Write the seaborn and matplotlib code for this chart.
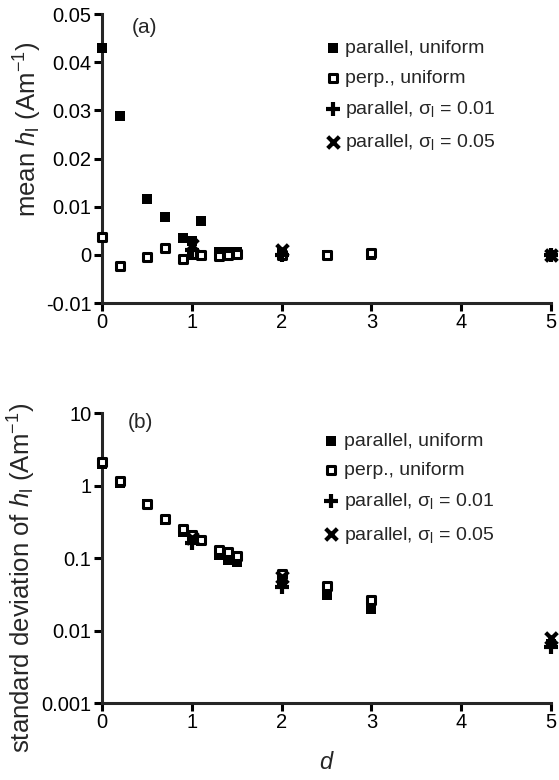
import numpy as np
import pandas as pd
import matplotlib
matplotlib.use("Agg")
import matplotlib.pyplot as plt
import seaborn as sns
from matplotlib.ticker import FixedLocator, NullLocator, FixedFormatter

sns.set_style("ticks")
plt.rcParams['font.family'] = ['Liberation Sans', 'DejaVu Sans']
plt.rcParams['mathtext.fontset'] = 'custom'
plt.rcParams['mathtext.rm'] = 'Liberation Sans'
plt.rcParams['mathtext.it'] = 'Liberation Sans:italic'

# ---- data ----
d_par = [0, 0.2, 0.5, 0.7, 0.9, 1.0, 1.1, 1.3, 1.4, 1.5, 2, 2.5, 3, 5]
mean_par = [0.043, 0.0288, 0.0115, 0.0079, 0.0034, 0.0028, 0.0071, 0.0005, 0.0005, 0.0006, 0.0003, 0.0, 0.0, 0.0]
std_par = [2.0, 1.1, 0.55, 0.33, 0.23, 0.2, 0.17, 0.11, 0.095, 0.088, 0.05, 0.031, 0.0195, 0.0065]

d_perp = [0, 0.2, 0.5, 0.7, 0.9, 1.0, 1.1, 1.3, 1.4, 1.5, 2, 2.5, 3]
mean_perp = [0.0037, -0.0024, -0.0004, 0.0015, -0.0008, 0.0002, 0.0, -0.0003, 0.0, 0.0002, 0.0, 0.0, 0.0003]
std_perp = [2.1, 1.15, 0.55, 0.34, 0.25, 0.21, 0.18, 0.13, 0.12, 0.105, 0.06, 0.041, 0.026]

d_sig = [1, 2, 5]
mean_s01 = [0.001, 0.0, 0.0]
std_s01 = [0.16, 0.04, 0.006]
mean_s05 = [0.002, 0.001, 0.0]
std_s05 = [0.19, 0.055, 0.008]

labels = ["parallel, uniform", "perp., uniform",
          r"parallel, $\mathrm{\sigma_l}$ = 0.01", r"parallel, $\mathrm{\sigma_l}$ = 0.05"]

x_ticks = [0, 1, 2, 3, 4, 5]
top_yticks = [-0.01, 0, 0.01, 0.02, 0.03, 0.04, 0.05]
top_yticklabels = ["-0.01", "0", "0.01", "0.02", "0.03", "0.04", "0.05"]
bot_yticks = [0.001, 0.01, 0.1, 1, 10]
bot_yticklabels = ["0.001", "0.01", "0.1", "1", "10"]

fig = plt.figure(figsize=(5.59, 7.8), dpi=100)
ax1 = fig.add_axes([0.1825, 0.6115, 0.8032, 0.3705])
ax2 = fig.add_axes([0.1825, 0.0987, 0.8032, 0.3718])

styles = [
    dict(marker='s', s=52, color='black', edgecolor='black', linewidth=0),
    dict(marker='s', s=36, facecolor='white', edgecolor='black', linewidth=2.2),
    dict(marker='+', s=110, color='black', linewidth=3.0),
    dict(marker='x', s=70, color='black', linewidth=3.0),
]

def draw(ax, ys):
    series = [(d_par, ys[0]), (d_perp, ys[1]), (d_sig, ys[2]), (d_sig, ys[3])]
    for (xs, yv), st, lab in zip(series, styles, labels):
        df = pd.DataFrame({'d': xs, 'v': yv})
        sns.scatterplot(data=df, x='d', y='v', ax=ax, label=lab, clip_on=False, zorder=3, **st)

draw(ax1, [mean_par, mean_perp, mean_s01, mean_s05])
draw(ax2, [std_par, std_perp, std_s01, std_s05])

for ax in (ax1, ax2):
    sns.despine(ax=ax)
    ax.set_xlim(0, 5)
    ax.spines['left'].set_linewidth(2.2)
    ax.spines['bottom'].set_linewidth(2.2)
    ax.tick_params(axis='both', which='major', direction='out', length=5.5, width=2.2,
                   labelsize=14.5, color='black', labelcolor='black', pad=2)
    ax.set_xticks(x_ticks)
    ax.set_xticklabels([str(t) for t in x_ticks])
    ax.legend_.remove()

ax1.set_ylim(-0.01, 0.05)
ax1.set_yticks(top_yticks)
ax1.set_yticklabels(top_yticklabels)
ax1.set_xlabel('')
ax1.set_ylabel(r"mean $h_\mathrm{l}$ (Am$^{-1}$)", fontsize=18.5)
ax1.yaxis.set_label_coords(-0.13, 0.6)

ax2.set_yscale('log')
ax2.set_ylim(0.001, 10)
ax2.yaxis.set_major_locator(FixedLocator(bot_yticks))
ax2.yaxis.set_major_formatter(FixedFormatter(bot_yticklabels))
ax2.yaxis.set_minor_locator(NullLocator())
ax2.set_xlabel(r"$d$", fontsize=17, labelpad=14)
ax2.set_ylabel(r"standard deviation of $h_\mathrm{l}$ (Am$^{-1}$)", fontsize=18.5)
ax2.yaxis.set_label_coords(-0.142, 0.43)

ax1.text(0.067, 0.987, "(a)", transform=ax1.transAxes, fontsize=15, va='top', ha='left')
ax2.text(0.058, 1.0, "(b)", transform=ax2.transAxes, fontsize=15, va='top', ha='left')

for ax, anchor in ((ax1, (0.581, 0.949)), (ax2, (0.578, 0.446))):
    h, l = ax.get_legend_handles_labels()
    fig.legend(h, l, loc='upper left', bbox_to_anchor=anchor, frameon=False,
               fontsize=14, handletextpad=0.25, labelspacing=0.62, borderaxespad=0,
               borderpad=0, handlelength=0.8, markerscale=1.0)

fig.savefig("out.png", dpi=100)
